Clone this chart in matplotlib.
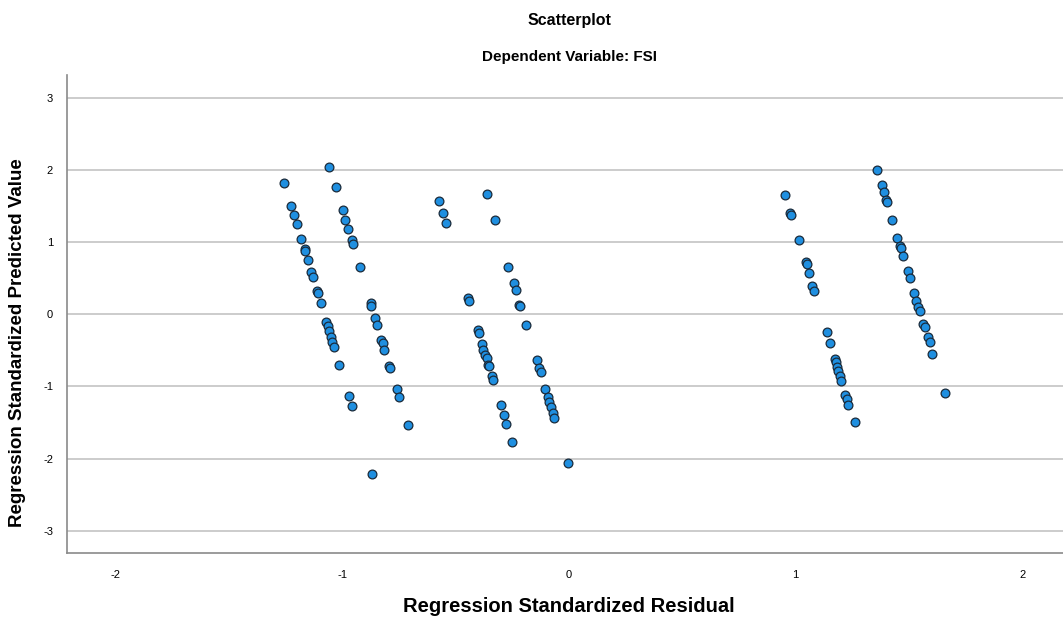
import matplotlib.pyplot as plt

plt.rcParams['font.family'] = ['Liberation Sans', 'DejaVu Sans']
plt.rcParams['axes.unicode_minus'] = False

# residuals (x) and predicted values (y)
residual = [-1.060, -1.257, -1.030, -1.227, -1.214, -1.201, -0.999, -0.988, -0.977, -0.958,
            -0.954, -1.183, -1.167, -1.164, -1.154, -1.139, -1.130, -0.924, -1.114, -1.110,
            -1.096, -0.876, -0.873, -0.858, -0.849, -1.071, -1.065, -1.060, -1.052, -1.046,
            -1.038, -1.015, -0.830, -0.823, -0.815, -0.793, -0.789, -0.973, -0.958, -0.759,
            -0.751, -0.712, -0.868,
            -0.574, -0.558, -0.544, -0.363, -0.328, -0.268, -0.244, -0.234, -0.219, -0.215,
            -0.188, -0.445, -0.442, -0.402, -0.396, -0.384, -0.378, -0.370, -0.363, -0.356,
            -0.352, -0.340, -0.336, -0.143, -0.131, -0.125, -0.105, -0.094, -0.087, -0.079,
            -0.072, -0.065, -0.302, -0.287, -0.278, -0.252, -0.004,
            0.954, 0.977, 0.981, 1.015, 1.045, 1.048, 1.058, 1.074, 1.083, 1.138,
            1.151, 1.173, 1.178, 1.182, 1.189, 1.196, 1.202, 1.220, 1.226, 1.233,
            1.260,
            1.357, 1.382, 1.391, 1.400, 1.404, 1.427, 1.448, 1.460, 1.464, 1.476,
            1.495, 1.504, 1.523, 1.532, 1.542, 1.550, 1.564, 1.570, 1.584, 1.591,
            1.604, 1.657]
predicted = [2.04, 1.82, 1.76, 1.50, 1.38, 1.25, 1.44, 1.31, 1.18, 1.03,
             0.97, 1.05, 0.90, 0.88, 0.75, 0.59, 0.52, 0.65, 0.32, 0.29,
             0.15, 0.15, 0.12, -0.05, -0.15, -0.11, -0.16, -0.23, -0.32, -0.38,
             -0.45, -0.70, -0.35, -0.40, -0.49, -0.72, -0.75, -1.13, -1.27, -1.04,
             -1.14, -1.54, -2.21,
             1.57, 1.40, 1.26, 1.67, 1.31, 0.65, 0.43, 0.34, 0.13, 0.11,
             -0.15, 0.23, 0.18, -0.22, -0.26, -0.41, -0.49, -0.56, -0.61, -0.70,
             -0.72, -0.86, -0.91, -0.64, -0.75, -0.80, -1.03, -1.14, -1.22, -1.29,
             -1.37, -1.44, -1.26, -1.40, -1.52, -1.77, -2.06,
             1.66, 1.41, 1.38, 1.03, 0.72, 0.70, 0.57, 0.39, 0.32, -0.25,
             -0.40, -0.62, -0.66, -0.73, -0.78, -0.85, -0.92, -1.12, -1.18, -1.26,
             -1.50,
             2.00, 1.79, 1.69, 1.59, 1.55, 1.31, 1.06, 0.95, 0.92, 0.81,
             0.60, 0.50, 0.29, 0.19, 0.10, 0.04, -0.13, -0.18, -0.32, -0.38,
             -0.55, -1.09]

xticks = [-2, -1, 0, 1, 2]
yticks = [-3, -2, -1, 0, 1, 2, 3]

fig = plt.figure(figsize=(10.63, 6.19), dpi=100)
ax = fig.add_axes([0.063, 0.1066, 0.937, 0.7725])

ax.scatter(residual, predicted, s=40, c='#1f8fe0', edgecolors='#1a2a3a',
           linewidths=0.9, zorder=3)

ax.set_xlim(-2.216, 2.18)
ax.set_ylim(-3.31, 3.32)
ax.set_xticks(xticks)
ax.set_yticks(yticks)
ax.yaxis.grid(True, color='#c8c8c8', linewidth=1.3)
ax.set_axisbelow(True)
ax.tick_params(length=0, labelsize=8, pad=12)
ax.tick_params(axis='y', pad=10)

for side in ['top', 'right']:
    ax.spines[side].set_visible(False)
for side in ['left', 'bottom']:
    ax.spines[side].set_color('#8a8a8a')
    ax.spines[side].set_linewidth(1.2)

ax.set_xlabel('Regression Standardized Residual', fontsize=14.5, fontweight='bold')
ax.set_ylabel('Regression Standardized Predicted Value', fontsize=13.5, fontweight='bold')
ax.xaxis.set_label_coords(0.504, -0.092)
ax.yaxis.set_label_coords(-0.041, 0.44)

fig.text(0.536, 0.967, 'Scatterplot', ha='center', va='center', fontsize=11.5, fontweight='bold')
fig.text(0.536, 0.908, 'Dependent Variable: FSI', ha='center', va='center', fontsize=11, fontweight='bold')

fig.savefig('out.png', dpi=100)
